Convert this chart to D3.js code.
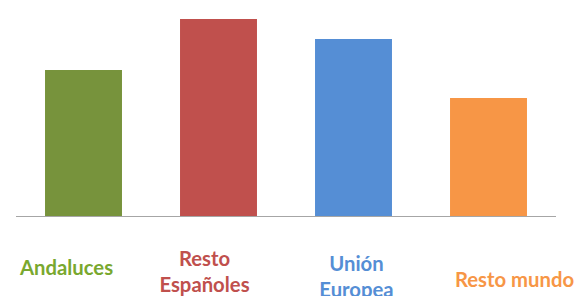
<!DOCTYPE html>
<html lang="es">
<head>
<meta charset="utf-8">
<style>
  body { margin: 0; background: #fff; }
  .label { font-family: Lato, "Open Sans", sans-serif; font-weight: bold; font-size: 20.3px; }
</style>
</head>
<body>
<script src="https://cdn.jsdelivr.net/npm/d3@7/dist/d3.min.js"></script>
<script>
// datos
var categorias = ["Andaluces", "Resto Españoles", "Unión Europea", "Resto mundo"];
var valores = [29.2, 39.4, 35.4, 23.6];
var colores = ["#77933c", "#c0504d", "#558ed5", "#f79646"];
var coloresTexto = ["#79a82f", "#c0504d", "#558ed5", "#f79646"];
// lineas de cada etiqueta
var lineas = [["Andaluces"], ["Resto", "Españoles"], ["Unión", "Europea"], ["Resto mundo"]];

var width = 579, height = 296;
var base = 216;

// desplazamiento de cada cuadro de texto respecto al centro de la barra
var labelDx = [-17, -14, 3, 26],
    labelY = [275, 266, 271, 287];

var svg = d3.select("body").append("svg")
  .attr("width", width)
  .attr("height", height);

var x = d3.scaleBand()
  .domain(categorias)
  .range([16, 556])
  .paddingInner(0.43)
  .paddingOuter(0.215);

var y = d3.scaleLinear()
  .domain([0, 43.2])
  .range([base, 0]);

svg.append("g")
  .selectAll("rect")
  .data(categorias)
  .enter().append("rect")
  .attr("x", function(d) { return x(d); })
  .attr("y", function(d, i) { return y(valores[i]); })
  .attr("width", x.bandwidth())
  .attr("height", function(d, i) { return y(0) - y(valores[i]); })
  .attr("fill", function(d, i) { return colores[i]; });

svg.append("line")
  .attr("x1", 16)
  .attr("x2", 556)
  .attr("y1", y(0) + 0.5)
  .attr("y2", y(0) + 0.5)
  .attr("stroke", "#a6a6a6")
  .attr("stroke-width", 1.2);

var labels = svg.append("g")
  .selectAll("text")
  .data(categorias)
  .enter().append("text")
  .attr("class", "label")
  .attr("text-anchor", "middle")
  .attr("fill", function(d, i) { return coloresTexto[i]; })
  .attr("x", function(d, i) { return x(d) + x.bandwidth() / 2 + labelDx[i]; })
  .attr("y", function(d, i) { return labelY[i]; });

labels.selectAll("tspan")
  .data(function(d, i) { return lineas[i].map(function(t) { return {t: t, i: i}; }); })
  .enter().append("tspan")
  .attr("x", function(d) { return x(categorias[d.i]) + x.bandwidth() / 2 + labelDx[d.i]; })
  .attr("dy", function(d, j) { return j === 0 ? 0 : 25.5; })
  .text(function(d) { return d.t; });
</script>
</body>
</html>
